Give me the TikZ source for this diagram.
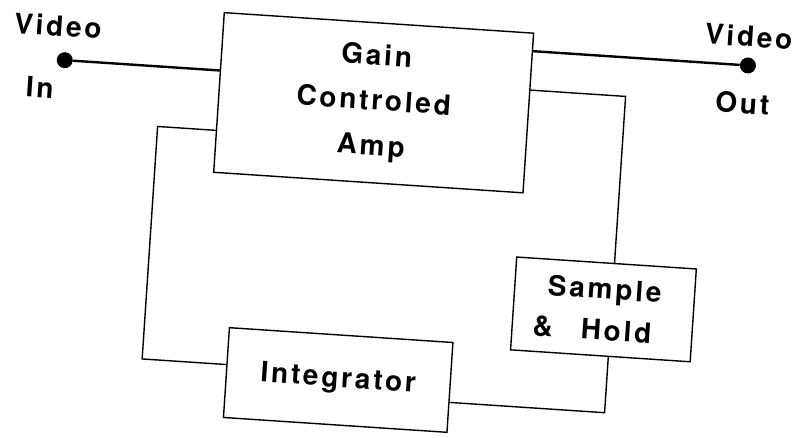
\documentclass[tikz,border=0pt]{standalone}
\usepackage{fontspec}
\setmainfont{TeX Gyre Heros}[LetterSpace=10]
\begin{document}
\begin{tikzpicture}[x=1pt, y=-1pt,
  every node/.style={font=\fontsize{28}{45}\selectfont\bfseries},
  block/.style={draw, line width=1.4pt, inner sep=0pt, align=center},
  wire/.style={line width=1.4pt},
  video/.style={line width=2.4pt},
  jack/.style={circle, fill, inner sep=0pt, minimum size=16pt}]
  \useasboundingbox (0,0) rectangle (809,438);

  % the scan sits a little skewed on the page
  \begin{scope}[rotate around={-3.8:(404,219)}, transform shape]
  \node[block, minimum width=310pt, minimum height=160pt] (gca) at (366,105) {Gain\\Controled\\Amp};
  \node[block, minimum width=180pt, minimum height=93pt,
        font=\fontsize{28}{41}\selectfont\bfseries] (sh) at (609,296) {Sample\\\&\quad Hold\hspace*{20pt}};
  \node[block, minimum width=224pt, minimum height=90pt] (int) at (349,384) {Integrator};

  \node[jack] (vin) at (55,83) {};
  \node[jack] (vout) at (737,43) {};
  \node (vinvideo) at (46,49) {Video};
  \node (vinin) at (32,112) {In};
  \node (voutvideo) at (736,14) {Video};
  \node (voutout) at (734,81) {Out};

  \draw[video] (vin) -- (vin -| gca.west);
  \draw[video] (vout -| gca.east) -- (vout);

  % feedback loop
  \coordinate (fbr) at (617,82);
  \coordinate (fbb) at (617,399);
  \coordinate (fbl) at (152,376);
  \coordinate (fbt) at (152,143);
  \draw[wire] (fbr -| gca.east) -- (fbr) -- (fbr |- sh.north);
  \draw[wire] (fbb |- sh.south) -- (fbb) -- (fbb -| int.east);
  \draw[wire] (fbl -| int.west) -- (fbl) -- (fbt) -- (fbt -| gca.west);
  \end{scope}
\end{tikzpicture}
\end{document}
